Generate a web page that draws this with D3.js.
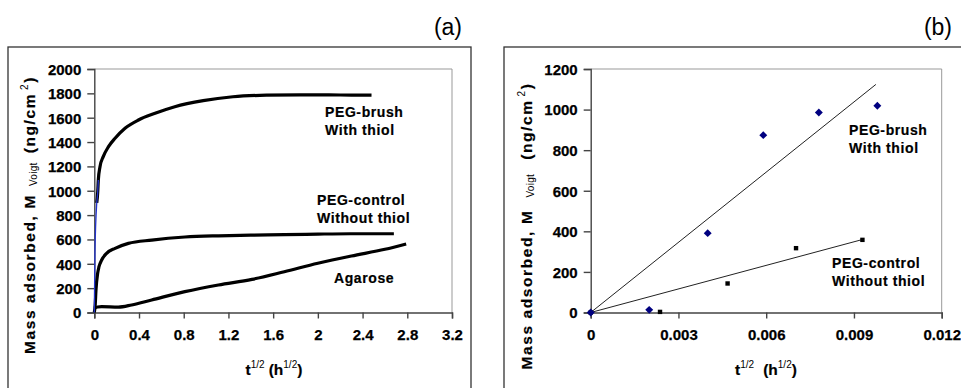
<!DOCTYPE html>
<html><head><meta charset="utf-8">
<script src="https://cdn.jsdelivr.net/npm/d3@7"></script>
<style>
body{margin:0;background:#fff;}
text{font-family:"Liberation Sans",Arial,sans-serif;}
</style></head>
<body><svg id="c" width="961" height="388"></svg>
<script>
// ---------- Panel (a) data: t^1/2 (h^1/2) vs mass (ng/cm2) ----------
const brushX   = [0, 0.006, 0.022, 0.030, 0.036, 0.051, 0.08, 0.127, 0.186, 0.275, 0.395, 0.544, 0.72, 0.974, 1.24, 1.54, 1.84, 2.1, 2.3, 2.48];
const brushY   = [0, 500, 900, 980, 1089, 1198, 1280, 1362, 1431, 1513, 1581, 1636, 1690, 1740, 1772, 1785, 1788, 1787, 1786, 1785];
const controlX = [0, 0.008, 0.015, 0.030, 0.042, 0.066, 0.110, 0.186, 0.305, 0.514, 0.811, 1.11, 1.40, 1.70, 2.0, 2.29, 2.68];
const controlY = [0, 60, 185, 322, 376, 431, 486, 527, 568, 595, 620, 630, 635, 639, 644, 647, 647];
const agaroseX = [0, 0.03, 0.066, 0.215, 0.334, 0.513, 0.81, 1.11, 1.41, 1.70, 2.0, 2.3, 2.6, 2.79];
const agaroseY = [35, 45, 48, 44, 62, 103, 171, 226, 272, 335, 404, 464, 519, 563];
const aXTicks = [0, 0.4, 0.8, 1.2, 1.6, 2, 2.4, 2.8, 3.2];
const aYTicks = [0, 200, 400, 600, 800, 1000, 1200, 1400, 1600, 1800, 2000];

// ---------- Panel (b) data ----------
const bBrushX   = [0, 0.0020, 0.0040, 0.0059, 0.0078, 0.0098];
const bBrushY   = [0, 13, 391, 874, 986, 1019];
const bControlX = [0, 0.00237, 0.00468, 0.00702, 0.00929];
const bControlY = [0, 3, 143, 317, 358];
const bBrushFitX = [0, 0.00975], bBrushFitY = [0, 1124];
const bControlFitX = [0, 0.0093], bControlFitY = [0, 360];
const bXTicks = [0, 0.003, 0.006, 0.009, 0.012];
const bYTicks = [0, 200, 400, 600, 800, 1000, 1200];

const svg = d3.select("#c");
const zip = (xs, ys) => xs.map((x, i) => [x, ys[i]]);

// outer frames
svg.append("rect").attr("x", 8).attr("y", 47).attr("width", 463).attr("height", 360)
  .attr("fill", "none").attr("stroke", "#333").attr("stroke-width", 1.3);
svg.append("rect").attr("x", 504).attr("y", 47).attr("width", 470).attr("height", 360)
  .attr("fill", "none").attr("stroke", "#333").attr("stroke-width", 1.3);

svg.append("text").attr("x", 462).attr("y", 35).attr("text-anchor", "end")
  .attr("font-size", 23).text("(a)");
svg.append("text").attr("x", 952).attr("y", 35).attr("text-anchor", "end")
  .attr("font-size", 23).text("(b)");

function panel(opts) {
  const {x0, x1, y0, y1, xDom, yDom, xTicks, yTicks, fmtX} = opts;
  const x = d3.scaleLinear().domain(xDom).range([x0, x1]);
  const y = d3.scaleLinear().domain(yDom).range([y1, y0]);
  svg.append("path").attr("d", `M${x0},${y0}H${x1}V${y1}`)
    .attr("fill", "none").attr("stroke", "#999").attr("stroke-width", 1);
  const gx = svg.append("g").attr("transform", `translate(0,${y1})`)
    .call(d3.axisBottom(x).tickValues(xTicks).tickFormat(fmtX).tickSizeOuter(0).tickSize(6).tickPadding(11));
  const gy = svg.append("g").attr("transform", `translate(${x0},0)`)
    .call(d3.axisLeft(y).tickValues(yTicks).tickFormat(d3.format("d")).tickSizeOuter(0).tickSize(7).tickPadding(6));
  [gx, gy].forEach(g => {
    g.selectAll("path,line").attr("stroke", "#444").attr("stroke-width", 1.4);
    g.selectAll("text").attr("font-size", 15).attr("font-weight", "bold").attr("fill", "#000")
      .attr("stroke", "#000").attr("stroke-width", 0.25)
      .attr("font-family", '"Liberation Sans",Arial,sans-serif');
  });
  gy.selectAll("text").attr("dy", "0.36em");
  return {x, y};
}

// ---------- Panel (a) ----------
const A = panel({x0: 94.3, x1: 452, y0: 69, y1: 312.5, xDom: [0, 3.2], yDom: [0, 2000],
  xTicks: aXTicks, yTicks: aYTicks, fmtX: d => d3.format("~g")(d)});
const lineA = d3.line().x(d => A.x(d[0])).y(d => A.y(d[1])).curve(d3.curveMonotoneX);
const brush = zip(brushX, brushY);
svg.append("path").attr("d", lineA(zip(controlX, controlY))).attr("fill", "none")
  .attr("stroke", "#000").attr("stroke-width", 3.2);
svg.append("path").attr("d", lineA(zip(agaroseX, agaroseY))).attr("fill", "none")
  .attr("stroke", "#000").attr("stroke-width", 3.2);
svg.append("path").attr("d", lineA(brush.slice(2))).attr("fill", "none")
  .attr("stroke", "#000").attr("stroke-width", 3.2);
svg.append("path").attr("d", lineA(brush.slice(0, 5))).attr("fill", "none")
  .attr("stroke", "#2233cc").attr("stroke-width", 1.3);

function label(x, y, lines, dyStep) {
  lines.forEach((t, i) => svg.append("text").attr("x", x).attr("y", y + i * dyStep)
    .attr("font-size", 14).attr("font-weight", "bold").attr("letter-spacing", 0.6)
    .attr("stroke", "#000").attr("stroke-width", 0.2).text(t));
}
label(325, 117, ["PEG-brush", "With thiol"], 18);
label(317, 205, ["PEG-control", "Without thiol"], 18);
label(334, 283, ["Agarose"], 18);

function yTitle(cx, cy, g1, g2) {
  const t = svg.append("text").attr("transform", `translate(${cx},${cy}) rotate(-90)`)
    .attr("text-anchor", "middle").attr("font-size", 15.5).attr("font-weight", "bold")
    .attr("letter-spacing", 1.6).attr("stroke", "#000").attr("stroke-width", 0.2);
  t.append("tspan").text("Mass adsorbed, M");
  t.append("tspan").attr("font-size", 10).attr("font-weight", "normal").attr("letter-spacing", 0.3)
    .attr("stroke-width", 0).attr("dx", g1).attr("dy", 2).text("Voigt");
  t.append("tspan").attr("dx", g2).attr("dy", -2).text("(ng/cm");
  t.append("tspan").attr("font-size", 10).attr("font-weight", "normal").attr("stroke-width", 0)
    .attr("dx", 3).attr("dy", -7).text("2");
  t.append("tspan").attr("dy", 7).text(")");
}
function xTitle(cx, cy, gap) {
  const t = svg.append("text").attr("x", cx).attr("y", cy).attr("text-anchor", "middle")
    .attr("font-size", 15.5).attr("font-weight", "bold").attr("stroke", "#000").attr("stroke-width", 0.2);
  t.append("tspan").text("t");
  t.append("tspan").attr("font-size", 10).attr("font-weight", "normal").attr("stroke-width", 0).attr("dy", -7).text("1/2");
  t.append("tspan").attr("dy", 7).attr("dx", gap).text("(h");
  t.append("tspan").attr("font-size", 10).attr("font-weight", "normal").attr("stroke-width", 0).attr("dy", -7).text("1/2");
  t.append("tspan").attr("dy", 7).text(")");
}
yTitle(35, 215, 8, 9);
xTitle(274, 375, 4);

// ---------- Panel (b) ----------
const B = panel({x0: 590.7, x1: 941.7, y0: 69, y1: 312.5, xDom: [0, 0.012], yDom: [0, 1200],
  xTicks: bXTicks, yTicks: bYTicks, fmtX: d => d === 0 ? "0" : d3.format(".3f")(d)});
const lineB = d3.line().x(d => B.x(d[0])).y(d => B.y(d[1]));
svg.append("path").attr("d", lineB(zip(bBrushFitX, bBrushFitY))).attr("fill", "none")
  .attr("stroke", "#222").attr("stroke-width", 1);
svg.append("path").attr("d", lineB(zip(bControlFitX, bControlFitY))).attr("fill", "none")
  .attr("stroke", "#222").attr("stroke-width", 1);
svg.selectAll(".sq").data(zip(bControlX, bControlY)).enter().append("rect")
  .attr("x", d => B.x(d[0]) - 2.2).attr("y", d => B.y(d[1]) - 2.2)
  .attr("width", 4.4).attr("height", 4.4).attr("fill", "#000");
svg.selectAll(".dm").data(zip(bBrushX, bBrushY)).enter().append("path")
  .attr("d", d3.symbol().type(d3.symbolDiamond2).size(40))
  .attr("transform", d => `translate(${B.x(d[0])},${B.y(d[1])})`)
  .attr("fill", "#000080");
label(849, 135, ["PEG-brush", "With thiol"], 18);
label(832, 268, ["PEG-control", "Without thiol"], 18);
yTitle(532, 226, 12, 14);
xTitle(766, 375, 9);
</script></body></html>
